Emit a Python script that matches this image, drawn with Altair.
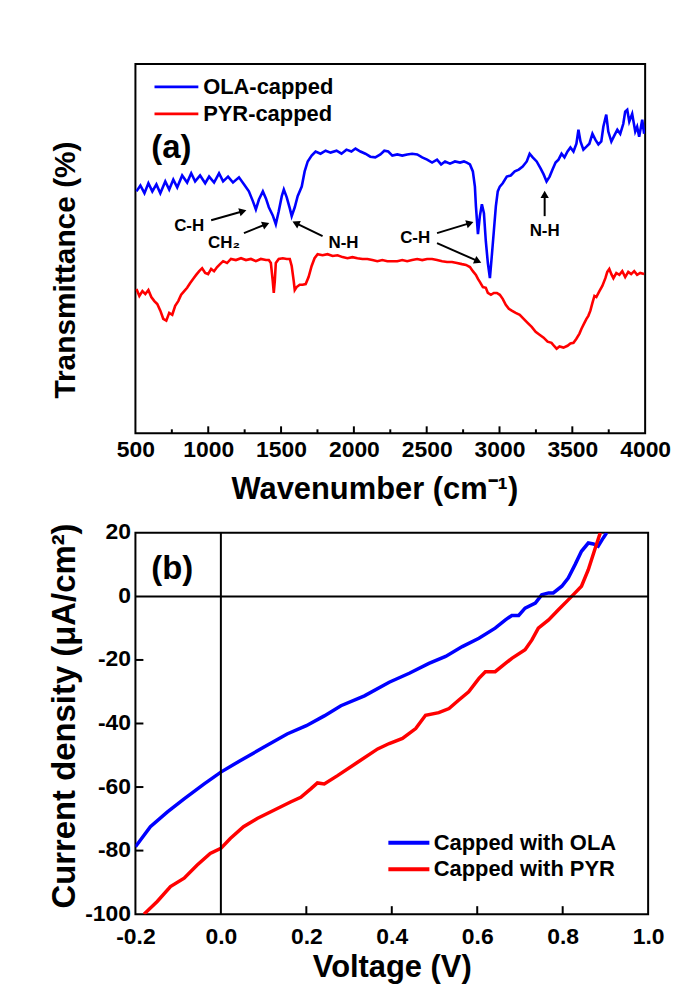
import math
import altair as alt
import pandas as pd

FONT = "Liberation Sans"

# ---------------- (a) FTIR spectra ----------------
ola_wn = [507, 534, 562, 589, 616, 644, 671, 705, 732, 760,
          787, 821, 855, 883, 910, 944, 979, 1006, 1040, 1074,
          1102, 1136, 1170, 1211, 1245, 1279, 1307, 1327, 1348, 1375,
          1396, 1416, 1443, 1464, 1484, 1505, 1519, 1539, 1560, 1573,
          1594, 1614, 1642, 1662, 1683, 1710, 1737, 1771, 1806, 1840,
          1881, 1915, 1949, 1983, 2011, 2045, 2079, 2113, 2147, 2182,
          2209, 2236, 2264, 2298, 2332, 2366, 2400, 2435, 2469, 2503,
          2537, 2571, 2599, 2626, 2660, 2694, 2729, 2756, 2776, 2797,
          2817, 2831, 2838, 2852, 2865, 2879, 2893, 2906, 2920, 2934,
          2947, 2961, 2975, 2988, 3002, 3022, 3050, 3077, 3105, 3132,
          3159, 3187, 3207, 3228, 3255, 3282, 3303, 3323, 3344, 3364,
          3385, 3405, 3426, 3446, 3467, 3487, 3508, 3528, 3542, 3556,
          3576, 3597, 3617, 3638, 3658, 3679, 3699, 3713, 3733, 3747,
          3768, 3788, 3809, 3829, 3850, 3863, 3877, 3891, 3911, 3932,
          3945, 3959, 3980, 3993]
ola_t = [65.5, 67.1, 65.0, 67.7, 65.5, 67.4, 65.0, 68.2, 66.0, 68.7,
         66.6, 69.8, 67.9, 70.4, 68.2, 69.8, 67.7, 69.5, 67.9, 70.4,
         68.2, 69.5, 67.9, 69.3, 67.4, 65.5, 62.8, 60.6, 63.3, 65.5,
         63.6, 61.2, 59.0, 56.6, 60.1, 64.2, 66.0, 63.9, 60.9, 58.8,
         61.2, 64.2, 66.8, 70.9, 73.6, 75.2, 76.3, 75.7, 76.5, 76.0,
         76.5, 75.7, 76.8, 76.3, 77.1, 76.3, 75.7, 74.9, 74.7, 75.5,
         76.5, 76.3, 75.2, 75.5, 75.2, 75.5, 75.7, 75.5, 74.7, 74.1,
         73.3, 74.1, 72.8, 73.6, 73.0, 73.6, 73.3, 73.6, 73.3, 72.8,
         70.9, 66.8, 61.5, 53.9, 58.8, 62.0, 59.6, 52.0, 46.1, 42.0,
         48.0, 54.7, 61.5, 65.5, 66.8, 67.7, 69.5, 69.8, 70.9, 71.4,
         72.2, 73.6, 75.7, 74.7, 73.6, 71.7, 70.1, 68.2, 69.5, 71.4,
         73.3, 74.1, 75.7, 74.7, 76.3, 77.4, 76.3, 78.4, 82.2, 79.0,
         76.8, 77.6, 78.4, 81.1, 79.5, 78.2, 79.0, 83.0, 86.3, 81.7,
         79.0, 80.6, 82.2, 81.1, 83.8, 87.1, 87.6, 84.4, 86.5, 81.7,
         83.0, 80.3, 84.9, 81.1]

pyr_wn = [507, 527, 548, 568, 589, 609, 630, 650, 671, 691,
          712, 732, 753, 773, 794, 814, 835, 855, 876, 896,
          917, 938, 958, 979, 999, 1020, 1040, 1061, 1081, 1102,
          1129, 1156, 1190, 1225, 1259, 1293, 1327, 1361, 1396, 1416,
          1430, 1443, 1450, 1457, 1464, 1484, 1512, 1539, 1560, 1573,
          1587, 1594, 1607, 1628, 1648, 1669, 1689, 1710, 1730, 1751,
          1785, 1819, 1854, 1888, 1922, 1956, 1990, 2024, 2059, 2093,
          2127, 2161, 2195, 2230, 2264, 2298, 2332, 2366, 2400, 2435,
          2469, 2503, 2537, 2571, 2606, 2640, 2674, 2708, 2742, 2770,
          2797, 2817, 2838, 2852, 2865, 2886, 2906, 2920, 2941, 2961,
          2982, 3002, 3022, 3043, 3064, 3084, 3111, 3139, 3166, 3193,
          3221, 3248, 3275, 3303, 3330, 3357, 3378, 3392, 3412, 3439,
          3467, 3487, 3508, 3528, 3549, 3563, 3583, 3597, 3610, 3624,
          3638, 3652, 3665, 3686, 3706, 3727, 3740, 3754, 3768, 3782,
          3802, 3823, 3843, 3863, 3884, 3904, 3925, 3945, 3966, 3993]
pyr_t = [39.1, 37.2, 38.5, 37.7, 38.8, 36.9, 35.8, 35.0, 33.2, 31.0,
         30.5, 32.6, 32.1, 34.5, 35.8, 37.5, 38.5, 39.4, 40.7, 41.8,
         42.9, 43.9, 44.7, 43.4, 43.1, 44.5, 43.9, 45.0, 45.8, 46.6,
         46.1, 47.2, 46.9, 47.4, 46.9, 47.2, 46.6, 47.2, 46.9, 46.9,
         46.1, 41.2, 38.0, 41.2, 46.1, 47.2, 47.4, 47.2, 47.2, 45.3,
         41.2, 38.8, 39.6, 40.2, 40.2, 40.4, 42.3, 45.3, 47.4, 48.5,
         48.2, 48.5, 48.0, 48.2, 47.7, 47.4, 47.7, 47.4, 47.2, 47.2,
         46.9, 46.6, 46.9, 46.6, 46.6, 46.6, 46.9, 46.6, 46.9, 47.2,
         46.9, 47.2, 47.2, 46.9, 46.6, 46.4, 46.4, 46.1, 45.8, 45.6,
         45.0, 43.9, 42.9, 41.8, 41.0, 39.6, 39.4, 38.0, 37.5, 38.0,
         38.0, 37.5, 36.4, 34.8, 33.7, 33.2, 32.6, 32.1, 31.0, 29.9,
         28.8, 27.5, 26.7, 25.9, 24.8, 24.5, 23.5, 22.9, 23.5, 23.2,
         23.7, 24.3, 24.5, 25.6, 27.0, 28.3, 29.9, 31.0, 31.8, 33.2,
         35.3, 37.2, 36.9, 38.5, 39.9, 42.0, 43.7, 44.5, 43.1, 42.0,
         43.4, 42.9, 43.9, 42.3, 43.7, 43.1, 43.9, 42.9, 43.4, 43.1]

ftir_series = ["OLA-capped", "PYR-capped"]
wn_labels = [500, 1000, 1500, 2000, 2500, 3000, 3500, 4000]
wn_major = [1000, 1500, 2000, 2500, 3000, 3500]
wn_minor = [750, 1250, 1750, 2250, 2750, 3250, 3750]

# peak annotations (a)
ann_labels = ["C-H", "CH\u2082", "N-H", "C-H", "N-H"]
ann_wn = [869, 1108, 1929, 2421, 3310]
ann_t = [56.1, 51.5, 51.5, 52.8, 54.7]
arr_wn1 = [1020, 1245, 1785, 2571, 2571, 3310]
arr_t1 = [57.7, 54.2, 53.4, 54.2, 51.5, 58.8]
arr_wn2 = [1238, 1396, 1601, 2797, 2852, 3310]
arr_t2 = [60.1, 56.6, 56.9, 56.9, 46.6, 64.7]

leg_a_t = [93.8, 86.5]
leg_a_wn1, leg_a_wn2, leg_a_text_wn = 631, 932, 965
panel_a_label = ("(a)", 746, 77.1)

# ---------------- (b) J-V curves ----------------
ola_v = [-0.2, -0.165, -0.125, -0.086, -0.039, 0.0, 0.045, 0.1, 0.155, 0.2,
         0.242, 0.281, 0.336, 0.394, 0.441, 0.487, 0.526, 0.565, 0.604, 0.642,
         0.666, 0.681, 0.697, 0.712, 0.736, 0.751, 0.767, 0.778, 0.798, 0.813,
         0.829, 0.844, 0.86, 0.872, 0.883, 0.895, 0.903]
ola_j = [-78.8, -72.5, -67.8, -63.7, -59.0, -55.3, -51.7, -47.5, -43.3, -40.7,
         -37.6, -34.4, -31.3, -27.0, -24.2, -21.1, -18.9, -15.8, -13.2, -10.0,
         -7.4, -6.0, -6.0, -3.7, -2.1, 0.5, 1.1, 1.1, 3.2, 5.8,
         10.0, 14.2, 16.8, 16.5, 15.8, 18.4, 20.0]
pyr_v = [-0.18, -0.149, -0.118, -0.086, -0.056, -0.025, 0.0, 0.022, 0.053, 0.085,
         0.124, 0.163, 0.187, 0.211, 0.226, 0.242, 0.273, 0.32, 0.367, 0.394,
         0.425, 0.456, 0.479, 0.51, 0.534, 0.557, 0.58, 0.604, 0.619, 0.642,
         0.666, 0.681, 0.712, 0.728, 0.743, 0.767, 0.79, 0.813, 0.829, 0.844,
         0.86, 0.875, 0.888]
pyr_j = [-100.0, -96.0, -91.3, -88.7, -84.6, -80.9, -79.3, -76.2, -72.5, -69.9,
         -67.3, -64.7, -63.2, -60.5, -58.7, -59.0, -56.4, -52.2, -48.0, -46.3,
         -44.7, -41.6, -37.4, -36.6, -35.3, -32.6, -30.0, -25.8, -23.7, -23.7,
         -21.1, -19.5, -16.8, -13.7, -10.0, -7.4, -4.2, -1.1, 1.1, 3.2,
         8.4, 14.7, 20.0]
jv_series = ["Capped with OLA", "Capped with PYR"]
v_labels = [-0.2, 0.0, 0.2, 0.4, 0.6, 0.8, 1.0]
v_ticks = [0.2, 0.4, 0.6, 0.8]
j_labels = [-100, -80, -60, -40, -20, 0, 20]
j_ticks = [-80, -60, -40, -20]
leg_b_j = [-77.5, -85.9]
leg_b_v1, leg_b_v2, leg_b_text_v = 0.392, 0.488, 0.498
panel_b_label = ("(b)", -0.114, 8.6)

COLORS = ["#0000ff", "#ff0000"]

# ---------------- sizes ----------------
W1, H1 = 512, 371
W2, H2 = 515, 383
MAJ, MIN = 7, 4

# ---------------- shared scales / axes ----------------
xs1 = alt.Scale(domain=[500, 4000], nice=False, zero=False)
ys1 = alt.Scale(domain=[0, 100], nice=False, zero=False)
ax1x = alt.Axis(
    title="Wavenumber (cm\u207b\u00b9)", values=wn_labels, format="d",
    ticks=False, domain=False, grid=False, labelPadding=5, titlePadding=13,
    titleFontSize=31, titleX=W1 / 2 - 16, titleAlign="center",
    labelFlush=False, labelOverlap=False)
ax1y = alt.Axis(
    title="Transmittance (%)", labels=False, ticks=False, domain=False, grid=False,
    titleFontSize=30, titleX=-70, titleY=H1 / 2 + 21, titleAngle=270,
    titleBaseline="middle", titleAlign="center")

xs2 = alt.Scale(domain=[-0.2, 1.0], nice=False, zero=False)
ys2 = alt.Scale(domain=[-100, 20], nice=False, zero=False)
ax2x = alt.Axis(
    title="Voltage (V)", values=v_labels,
    labelExpr="datum.value < 0 ? '-' + format(-datum.value, '.1f') : format(datum.value, '.1f')",
    ticks=False, domain=False, grid=False, labelPadding=11, titlePadding=5,
    titleFontSize=31, labelFlush=False, labelOverlap=False)
ax2y = alt.Axis(
    title="Current density (\u03bcA/cm\u00b2)", values=j_labels,
    labelExpr="datum.value < 0 ? '-' + format(-datum.value, 'd') : format(datum.value, 'd')",
    ticks=False, domain=False, grid=False, labelPadding=5, labelOffset=-1,
    labelFlush=False, labelOverlap=False,
    titleFontSize=33, titleX=-71, titleY=H2 / 2 - 8, titleAngle=270,
    titleBaseline="middle", titleAlign="center")


def X1(f):
    return alt.X(f, type="quantitative", scale=xs1, axis=ax1x)


def Y1(f):
    return alt.Y(f, type="quantitative", scale=ys1, axis=ax1y)


def X2(f):
    return alt.X(f, type="quantitative", scale=xs2, axis=ax2x)


def Y2(f):
    return alt.Y(f, type="quantitative", scale=ys2, axis=ax2y)


# ================= panel (a) =================
ftir = pd.concat([
    pd.DataFrame({"wn": ola_wn, "t": ola_t, "s": ftir_series[0]}),
    pd.DataFrame({"wn": pyr_wn, "t": pyr_t, "s": ftir_series[1]}),
], ignore_index=True)

col1 = alt.Color("s:N", scale=alt.Scale(domain=ftir_series, range=COLORS), legend=None)

spec = alt.Chart(ftir).mark_line(strokeWidth=2.6, clip=True).encode(
    x=X1("wn"), y=Y1("t"), color=col1,
)

ticks_a_major = alt.Chart(pd.DataFrame({"wn": wn_major})).mark_rule(strokeWidth=2, color="black").encode(
    x=X1("wn"), y=alt.value(H1), y2=alt.value(H1 - MAJ))
ticks_a_minor = alt.Chart(pd.DataFrame({"wn": wn_minor})).mark_rule(strokeWidth=2, color="black").encode(
    x=X1("wn"), y=alt.value(H1), y2=alt.value(H1 - MIN))

ann_df = pd.DataFrame({"x": ann_wn, "y": ann_t, "label": ann_labels})
ann_text = alt.Chart(ann_df).mark_text(
    font=FONT, fontWeight="bold", fontSize=17, color="black", baseline="middle", align="center"
).encode(x=X1("x"), y=Y1("y"), text="label:N")

arr_df = pd.DataFrame({"x1": arr_wn1, "y1": arr_t1, "x2": arr_wn2, "y2": arr_t2})
sx1 = W1 / 3500.0
sy1 = H1 / 100.0
arr_df["ang"] = [
    (math.degrees(math.atan2(-(b2 - b1) * sy1, (a2 - a1) * sx1)) + 360) % 360
    for a1, b1, a2, b2 in zip(arr_wn1, arr_t1, arr_wn2, arr_t2)
]
arr_lines = alt.Chart(arr_df).mark_rule(strokeWidth=2, color="black").encode(
    x=X1("x1"), y=Y1("y1"), x2="x2:Q", y2="y2:Q",
)
arr_heads = alt.Chart(arr_df).mark_point(
    shape="triangle-right", filled=True, color="black", opacity=1, size=70
).encode(x=X1("x2"), y=Y1("y2"), angle=alt.Angle("ang:Q", scale=None))

leg_a = pd.DataFrame({"s": ftir_series, "y": leg_a_t, "x1": leg_a_wn1, "x2": leg_a_wn2,
                      "xt": leg_a_text_wn})
leg_a_lines = alt.Chart(leg_a).mark_rule(strokeWidth=2.8).encode(
    x=X1("x1"), x2="x2:Q", y=Y1("y"), color=col1,
)
leg_a_text = alt.Chart(leg_a).mark_text(
    font=FONT, fontWeight="bold", fontSize=22, color="black", align="left", baseline="middle"
).encode(x=X1("xt"), y=Y1("y"), text="s:N")
lab_a = alt.Chart(pd.DataFrame({"t": [panel_a_label[0]], "x": [panel_a_label[1]], "y": [panel_a_label[2]]})).mark_text(
    font=FONT, fontWeight="bold", fontSize=33, color="black", align="center", baseline="middle"
).encode(x=X1("x"), y=Y1("y"), text="t:N")

top = alt.layer(
    spec, ticks_a_major, ticks_a_minor, arr_lines, arr_heads, ann_text, leg_a_lines, leg_a_text, lab_a
).properties(width=W1, height=H1)

# ================= panel (b) =================
jv = pd.concat([
    pd.DataFrame({"v": ola_v, "j": ola_j, "s": jv_series[0], "o": range(len(ola_v))}),
    pd.DataFrame({"v": pyr_v, "j": pyr_j, "s": jv_series[1], "o": range(len(pyr_v))}),
], ignore_index=True)

col2 = alt.Color("s:N", scale=alt.Scale(domain=jv_series, range=COLORS), legend=None)

jv_lines = alt.Chart(jv).mark_line(strokeWidth=3.5, clip=True).encode(
    x=X2("v"), y=Y2("j"), color=col2, order="o:Q",
)
zero_h = alt.Chart(pd.DataFrame({"j": [0]})).mark_rule(strokeWidth=2, color="black").encode(
    y=Y2("j"))
zero_v = alt.Chart(pd.DataFrame({"v": [0.0]})).mark_rule(strokeWidth=2, color="black").encode(
    x=X2("v"))
xt_b = alt.Chart(pd.DataFrame({"v": v_ticks})).mark_rule(strokeWidth=2, color="black").encode(
    x=X2("v"), y=alt.value(H2), y2=alt.value(H2 - 8))
yt_b = alt.Chart(pd.DataFrame({"j": j_ticks})).mark_rule(strokeWidth=2, color="black").encode(
    y=Y2("j"), x=alt.value(0), x2=alt.value(8))

leg_b = pd.DataFrame({"s": jv_series, "y": leg_b_j, "x1": leg_b_v1, "x2": leg_b_v2,
                      "xt": leg_b_text_v})
leg_b_lines = alt.Chart(leg_b).mark_rule(strokeWidth=4).encode(
    x=X2("x1"), x2="x2:Q", y=Y2("y"), color=col2,
)
leg_b_text = alt.Chart(leg_b).mark_text(
    font=FONT, fontWeight="bold", fontSize=22, color="black", align="left", baseline="middle"
).encode(x=X2("xt"), y=Y2("y"), text="s:N")
lab_b = alt.Chart(pd.DataFrame({"t": [panel_b_label[0]], "x": [panel_b_label[1]], "y": [panel_b_label[2]]})).mark_text(
    font=FONT, fontWeight="bold", fontSize=33, color="black", align="center", baseline="middle"
).encode(x=X2("x"), y=Y2("y"), text="t:N")

bottom = alt.layer(
    jv_lines, zero_h, zero_v, xt_b, yt_b, leg_b_lines, leg_b_text, lab_b
).properties(width=W2, height=H2)

chart = alt.vconcat(top, bottom, spacing=15).properties(
    padding={"left": 39, "top": 53, "right": 5, "bottom": 5}
).configure_view(
    stroke="black", strokeWidth=2
).configure_axis(
    labelFont=FONT, titleFont=FONT, labelFontWeight="bold", titleFontWeight="bold",
    labelColor="black", titleColor="black", labelFontSize=23, titleFontSize=29,
)

chart.save("out.html", embed_options={"renderer": "svg", "actions": False})
